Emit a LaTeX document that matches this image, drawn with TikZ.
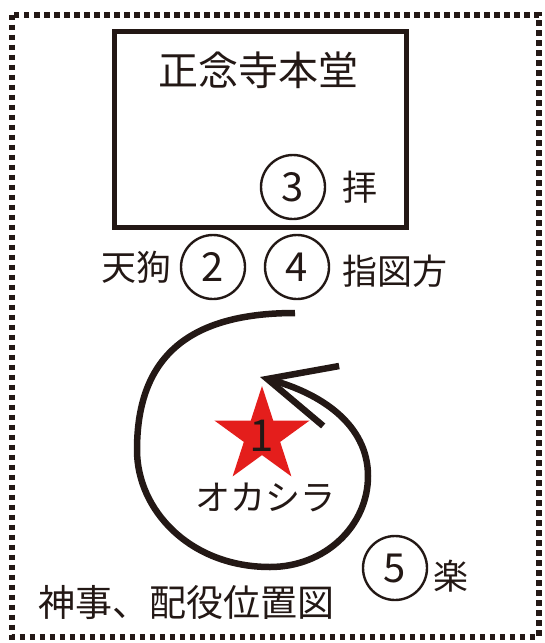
\documentclass[tikz,border=0pt]{standalone}
\usepackage{fontspec}
\usepackage{tikz}
\usetikzlibrary{shapes.geometric,positioning,arrows.meta}
\newfontfamily\jpfont{Noto Sans CJK JP}
\definecolor{ink}{RGB}{35,24,21}
\definecolor{starred}{RGB}{228,30,28}
\def\numsize{64pt}

\begin{document}
\begin{tikzpicture}[x=1pt,y=-1pt, nodes = {font=\jpfont, text=ink},
  num/.style={circle, draw=ink, line width=2.4pt, minimum size=\numsize,
    inner sep=0pt, font=\jpfont\fontsize{40}{40}\selectfont},
  lbl/.style={inner sep=0pt, font=\jpfont\fontsize{35}{35}\selectfont}]
\useasboundingbox (0,0) rectangle (545,643);
% outer frame
\draw[ink, line width=6pt, dash pattern=on 5.5pt off 4.5pt] (11.5,14.5) rectangle (538.5,636.5);
% main hall
\draw[ink, line width=5pt] (114,31) rectangle (406,227);
\node[inner sep=0pt, font=\jpfont\fontsize{40}{40}\selectfont] (hall) at (258,70) {正念寺本堂};
% numbered positions
\foreach \n/\x/\y in {
	2/213/267,
	3/293/187,
	4/297/267,
	5/395/568
} {
\node[num] (c\n) at (\x,\y) {\n};
};
\node[lbl, right=16pt of c3] (hai) {拝};
\node[lbl, left=8pt of c2] (tengu) {天狗};
\node[lbl, right=12pt of c4, yshift=-4pt] (sashizu) {指図方};
\node[lbl, right=5pt of c5, yshift=-8pt] (gaku) {楽};
% okashira
\node[star, star points=5, star point ratio=2.618, minimum size=100pt,
  inner sep=0pt, fill=starred] (okstar) at (262,436) {};
\node[font=\jpfont\fontsize{44}{44}\selectfont, inner sep=0pt] (one) at (262,436) {1};
\node[lbl] (okashira) at (265,497) {オカシラ};
% spiral route
\coordinate (sp0) at (295,313);
\coordinate (sp1) at (137,450);
\coordinate (sp2) at (270,567);
\coordinate (sp3) at (368,476);
\coordinate (sp4) at (260,377);
\draw[ink, line width=6.5pt, line cap=butt,
  -{Straight Barb[length=66pt, width=62pt, line width=6.5pt]}]
  (sp0) .. controls (185,313) and (137,360) .. (sp1)
        .. controls (137,510) and (190,567) .. (sp2)
        .. controls (325,567) and (368,526) .. (sp3)
        .. controls (368,424) and (320,393) .. (sp4);
% caption
\node[inner sep=0pt, font=\jpfont\fontsize{37}{37}\selectfont, anchor=west] (caption) at (38,602) {神事、配役位置図};
\end{tikzpicture}
\end{document}
